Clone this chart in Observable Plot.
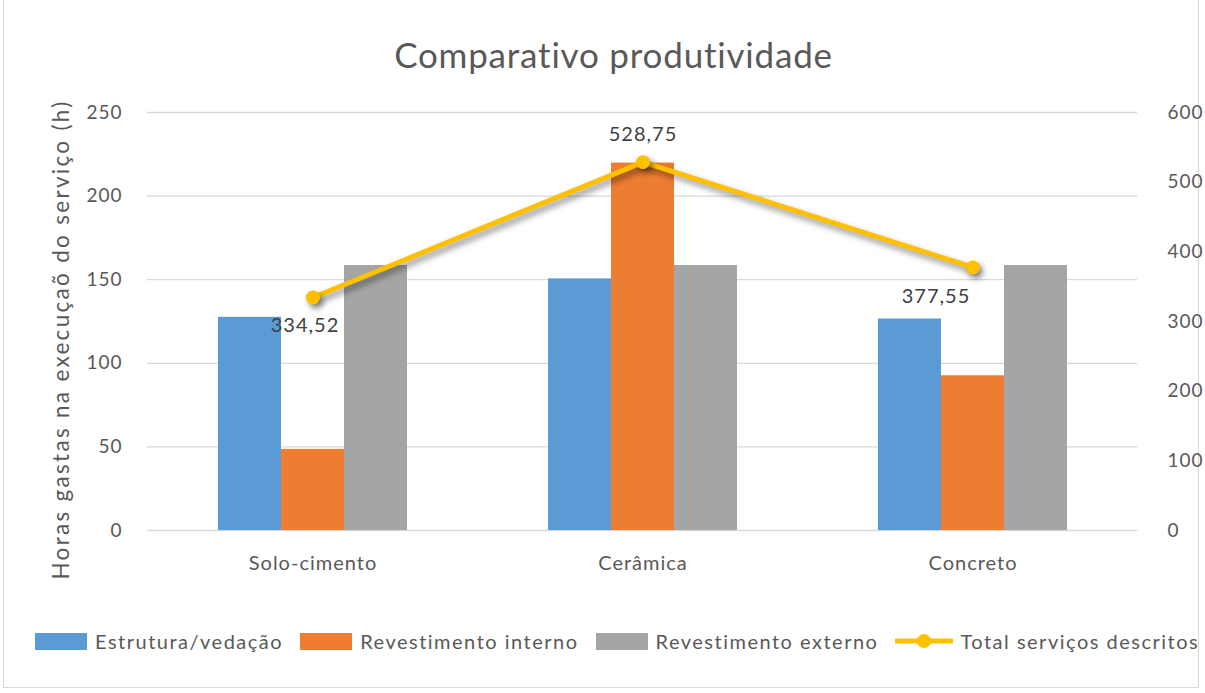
<!DOCTYPE html>
<html><head><meta charset="utf-8">
<script src="https://cdn.jsdelivr.net/npm/d3@7"></script>
<script src="https://cdn.jsdelivr.net/npm/@observablehq/plot@0.6"></script>
<style>
body{margin:0;background:#fff;font-family:Lato,"Open Sans",sans-serif;}
#wrap{position:relative;width:1205px;height:693px;overflow:hidden;}
#frame{position:absolute;left:3px;top:-2px;width:1196px;height:690px;border:1px solid #d9d9d9;box-sizing:border-box;}
#title{position:absolute;left:11px;width:1205px;top:33px;text-align:center;font-size:35px;letter-spacing:0.8px;color:#595959;}
#chart{position:absolute;left:0;top:0;}
#legend{position:absolute;left:35px;top:629px;display:flex;align-items:center;font-size:20px;letter-spacing:1.5px;color:#595959;white-space:nowrap;}
.sw{display:inline-block;width:52px;height:17px;margin-right:8px;}
.item{display:flex;align-items:center;margin-right:17px;}
svg text{letter-spacing:1px;}
svg text.ylab{letter-spacing:2.3px;}
</style></head>
<body><div id="wrap"><div id="frame"></div><div id="chart"></div><div id="title">Comparativo produtividade</div><div id="legend"></div></div>
<script>
const categories = ["Solo-cimento", "Cerâmica", "Concreto"];
const estrutura = [127.5, 150.5, 126.5];
const revInterno = [48.52, 219.75, 92.55];
const revExterno = [158.5, 158.5, 158.5];
const totals = [334.52, 528.75, 377.55];
const totalLabels = ["334,52", "528,75", "377,55"];
const seriesNames = ["Estrutura/vedação", "Revestimento interno", "Revestimento externo", "Total serviços descritos"];
const colors = ["#5B9BD5", "#ED7D31", "#A5A5A5", "#FFC000"];
const leftTicks = [0, 50, 100, 150, 200, 250];
const rightTicks = [0, 100, 200, 300, 400, 500, 600];
const leftMax = 250, rightMax = 600;
const k = leftMax / rightMax;
const yTitle = "Horas gastas na execuçaõ do serviço (h)";

const bw = 63;
const pInner = 1 - bw / 330;
const labelOffsets = [{dx: -8, dy: 28}, {dx: 0, dy: -28}, {dx: -37, dy: 29}];

const svg = Plot.plot({
  width: 1205, height: 600,
  marginTop: 112, marginBottom: 70, marginLeft: 147, marginRight: 68,
  style: {fontFamily: "Lato, 'Open Sans', sans-serif", fontSize: "19px", color: "#595959", background: "transparent"},
  x: {domain: categories, paddingInner: pInner, paddingOuter: pInner / 2, label: null},
  y: {domain: [0, leftMax], label: null},
  marks: [
    Plot.gridY(leftTicks, {stroke: "#D9D9D9", strokeOpacity: 1, strokeWidth: 1.3}),
    Plot.axisY({ticks: leftTicks, tickSize: 0, tickPadding: 25, label: null, fontSize: 19}),
    Plot.axisY({anchor: "right", ticks: rightTicks.map(v => v * k), tickFormat: d => String(Math.round(d / k)), tickSize: 0, tickPadding: 30, label: null, fontSize: 19}),
    Plot.axisX({tickSize: 0, tickPadding: 25, fontSize: 20}),
    Plot.text([yTitle], {frameAnchor: "left", textAnchor: "middle", rotate: -90, dx: -86, dy: 18, fontSize: 22.5, fill: "#595959"}),
    Plot.barY(estrutura, {x: categories, y: estrutura, fill: colors[0], dx: -bw}),
    Plot.barY(revInterno, {x: categories, y: revInterno, fill: colors[1], dx: 0}),
    Plot.barY(revExterno, {x: categories, y: revExterno, fill: colors[2], dx: bw}),
    Plot.line(totals, {x: categories, y: totals.map(t => t * k), stroke: colors[3], strokeWidth: 5}),
    Plot.dot(totals, {x: categories, y: totals.map(t => t * k), fill: colors[3], r: 7}),
    ...categories.map((c, i) => Plot.text([totalLabels[i]], {x: [c], y: [totals[i] * k], text: d => d, dx: labelOffsets[i].dx, dy: labelOffsets[i].dy, fontSize: 20, fill: "#404040"}))
  ]
});
document.getElementById("chart").appendChild(svg);
svg.querySelectorAll('g[aria-label="line"], g[aria-label="dot"]').forEach(g => g.style.filter = "drop-shadow(3px 4px 3px rgba(0,0,0,0.45))");
svg.querySelectorAll('text').forEach(t => { if (t.textContent === yTitle) t.classList.add("ylab"); });

const legend = document.getElementById("legend");
seriesNames.forEach((n, i) => {
  const it = document.createElement("div"); it.className = "item";
  if (i < 3) {
    it.innerHTML = `<span class="sw" style="background:${colors[i]}"></span><span>${n}</span>`;
  } else {
    it.innerHTML = `<svg width="58" height="20" style="margin-right:7px"><line x1="0" y1="10" x2="58" y2="10" stroke="${colors[3]}" stroke-width="5"/><circle cx="29" cy="10" r="7" fill="${colors[3]}"/></svg><span>${n}</span>`;
  }
  legend.appendChild(it);
});
</script></body></html>
